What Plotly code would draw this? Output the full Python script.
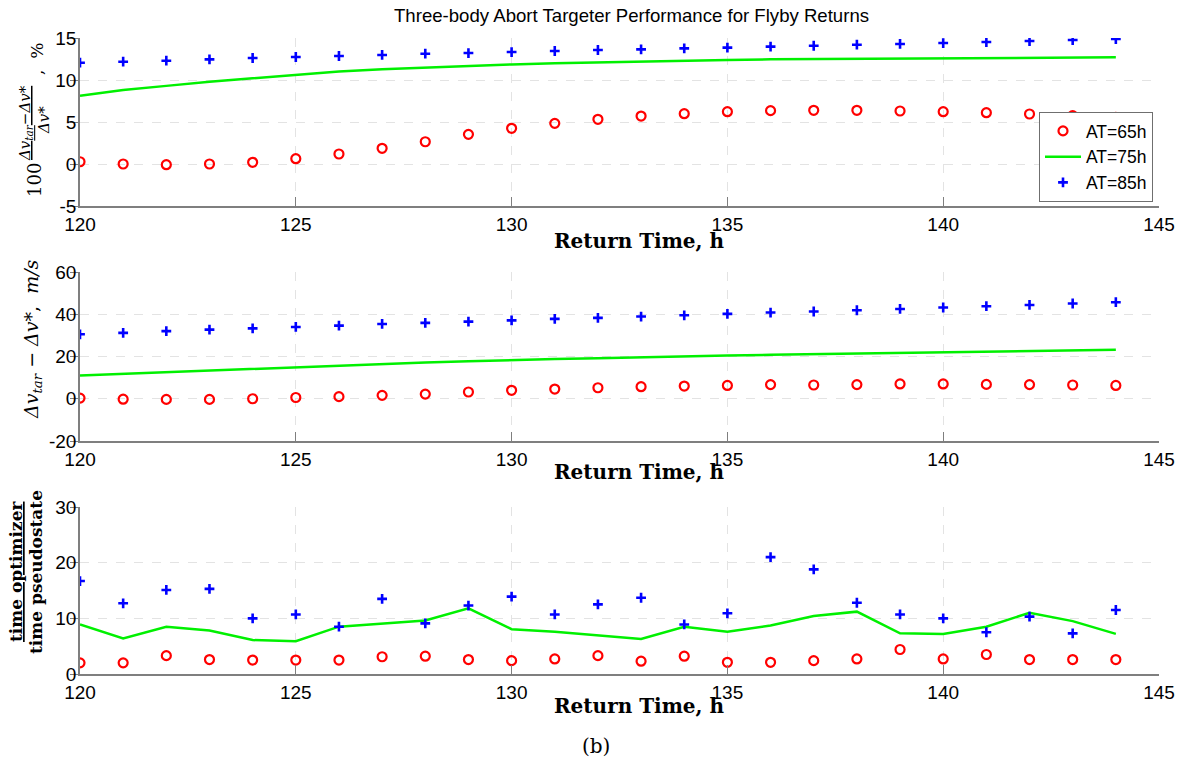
import plotly.graph_objects as go

# ---------------- data ----------------
return_time = [120, 121, 122, 123, 124, 125, 126, 127, 128, 129, 130, 131, 132,
               133, 134, 135, 136, 137, 138, 139, 140, 141, 142, 143, 144]

pct_65 = [0.27, 0.0, -0.08, 0.0, 0.2, 0.63, 1.19, 1.87, 2.65, 3.53, 4.25, 4.84, 5.32,
          5.71, 5.99, 6.23, 6.35, 6.39, 6.39, 6.31, 6.23, 6.11, 5.95, 5.75, 5.56]
pct_75 = [8.13, 8.8, 9.3, 9.8, 10.2, 10.6, 11.0, 11.27, 11.47, 11.67, 11.86, 11.98, 12.1,
          12.18, 12.3, 12.38, 12.46, 12.5, 12.54, 12.58, 12.62, 12.65, 12.67, 12.7, 12.7]
pct_85 = [12.06, 12.18, 12.3, 12.46, 12.62, 12.74, 12.86, 12.98, 13.13, 13.21, 13.33, 13.45, 13.57,
          13.65, 13.77, 13.85, 13.97, 14.08, 14.2, 14.29, 14.4, 14.52, 14.64, 14.76, 14.88]

dv_65 = [0.3, -0.2, -0.3, -0.3, 0.0, 0.6, 1.0, 1.6, 2.2, 3.2, 4.0, 4.6, 5.2,
         5.7, 6.0, 6.3, 6.7, 6.5, 6.7, 7.0, 7.0, 6.8, 6.7, 6.5, 6.3]
dv_75 = [11.0, 11.8, 12.6, 13.4, 14.2, 15.0, 15.8, 16.6, 17.2, 17.8, 18.4, 18.8, 19.2,
         19.7, 20.1, 20.5, 20.8, 21.1, 21.5, 21.8, 22.2, 22.4, 22.7, 23.0, 23.2]
dv_85 = [30.5, 31.2, 32.0, 32.7, 33.3, 34.0, 34.6, 35.4, 35.9, 36.5, 37.1, 37.8, 38.3,
         38.9, 39.5, 40.2, 40.8, 41.3, 41.9, 42.5, 43.2, 43.8, 44.4, 45.1, 45.7]

ratio_65 = [2.0, 2.0, 3.3, 2.6, 2.5, 2.5, 2.5, 3.1, 3.2, 2.6, 2.4, 2.7, 3.3,
            2.3, 3.2, 2.1, 2.1, 2.4, 2.7, 4.4, 2.7, 3.5, 2.6, 2.6, 2.6]
ratio_75 = [8.9, 6.4, 8.5, 7.8, 6.1, 5.9, 8.5, 9.1, 9.6, 11.8, 8.05, 7.6, 6.9,
            6.3, 8.5, 7.6, 8.7, 10.4, 11.2, 7.3, 7.2, 8.5, 11.0, 9.5, 7.2]
ratio_85 = [16.7, 12.7, 15.1, 15.3, 10.0, 10.7, 8.5, 13.5, 9.1, 12.3, 13.9, 10.7, 12.5,
            13.7, 8.9, 10.9, 21.0, 18.8, 12.8, 10.7, 10.0, 7.5, 10.3, 7.3, 11.5]

series_names = ["AT=65h", "AT=75h", "AT=85h"]
x_ticks = [120, 125, 130, 135, 140, 145]

# ---------------- layout helpers ----------------
W, H = 1183, 766
def px_x(p):
    return p / W
def px_y(p):
    return 1 - p / H

RED, GREEN, BLUE = "#ff0000", "#00f000", "#0000ff"
AXIS_GRAY = "#7f7f7f"
GRID = "#e3e3e3"
SANS = "Liberation Sans, Arial, sans-serif"
SERIF = "DejaVu Serif, serif"

panels = [
    (pct_65, pct_75, pct_85, [-5, 15], [-5, 0, 5, 10, 15], 38, 206),
    (dv_65, dv_75, dv_85, [-20, 60], [-20, 0, 20, 40, 60], 272, 441),
    (ratio_65, ratio_75, ratio_85, [0, 30], [0, 10, 20, 30], 507, 674),
]

fig = go.Figure()
layout = dict(
    width=W, height=H,
    margin=dict(l=0, r=0, t=0, b=0, autoexpand=False),
    paper_bgcolor="white", plot_bgcolor="white",
    showlegend=True,
    legend=dict(
        x=px_x(1153), y=px_y(202), xanchor="right", yanchor="bottom",
        bgcolor="white", bordercolor="#6f6f6f", borderwidth=1,
        font=dict(family=SANS, size=17.5, color="black"),
        itemwidth=36, tracegroupgap=0,
    ),
)

for i, (s65, s75, s85, yr, yt, top, bot) in enumerate(panels):
    k = "" if i == 0 else str(i + 1)
    xa, ya = "x" + k, "y" + k
    fig.add_trace(go.Scatter(
        x=return_time, y=s65, mode="markers", name=series_names[0],
        xaxis=xa, yaxis=ya, showlegend=(i == 0), legendrank=1,
        marker=dict(symbol="circle-open", size=9, color=RED, line=dict(width=2.2, color=RED)),
    ))
    fig.add_trace(go.Scatter(
        x=return_time, y=s75, mode="lines", name=series_names[1],
        xaxis=xa, yaxis=ya, showlegend=(i == 0), legendrank=2,
        line=dict(color=GREEN, width=2.5),
    ))
    fig.add_trace(go.Scatter(
        x=return_time, y=s85, mode="markers", name=series_names[2],
        xaxis=xa, yaxis=ya, showlegend=(i == 0), legendrank=3,
        marker=dict(symbol="cross-thin-open", size=7, color=BLUE, line=dict(width=2.6, color=BLUE)),
    ))
    layout["xaxis" + k] = dict(
        domain=[px_x(80), px_x(1159)], anchor=ya, range=[120, 145], automargin=False,
        tickvals=x_ticks, ticktext=[str(v) for v in x_ticks],
        ticks="inside", ticklen=9, tickcolor=AXIS_GRAY, tickwidth=1,
        showline=True, linecolor=AXIS_GRAY, linewidth=1.5,
        showgrid=True, gridcolor=GRID, griddash="dash", gridwidth=1,
        zeroline=False, tickfont=dict(family=SANS, size=19, color="black"),
    )
    layout["yaxis" + k] = dict(
        domain=[px_y(bot), px_y(top)], anchor=xa, range=yr, automargin=False,
        tickvals=yt, ticktext=[str(v) for v in yt],
        ticks="outside", ticklen=8, tickcolor=AXIS_GRAY, tickwidth=1,
        ticklabelstandoff=-10,
        showline=True, linecolor=AXIS_GRAY, linewidth=1.5,
        showgrid=True, gridcolor=GRID, griddash="dash", gridwidth=1,
        zeroline=False, tickfont=dict(family=SANS, size=19, color="black"),
    )

annotations = [
    dict(text="Three-body Abort Targeter Performance for Flyby Returns",
         x=px_x(631), y=px_y(16), font=dict(family=SANS, size=18.6, color="black")),
    dict(text="<b>Return Time, h</b>", x=px_x(639), y=px_y(241),
         font=dict(family=SERIF, size=20, color="black")),
    dict(text="<b>Return Time, h</b>", x=px_x(639), y=px_y(472),
         font=dict(family=SERIF, size=20, color="black")),
    dict(text="<b>Return Time, h</b>", x=px_x(639), y=px_y(706),
         font=dict(family=SERIF, size=20, color="black")),
    dict(text="(b)", x=px_x(596), y=px_y(746),
         font=dict(family=SERIF, size=20, color="black")),
    # panel 1 y label: 100 * fraction , %
    dict(text="100", x=px_x(34), y=px_y(180),
         textangle=-90, font=dict(family=SERIF, size=18, color="black")),
    dict(text="<i><u>Δv<sub>tar</sub>−Δv*</u></i>", x=px_x(26), y=px_y(123),
         textangle=-90, font=dict(family=SERIF, size=15, color="black")),
    dict(text="<i>Δv*</i>", x=px_x(44), y=px_y(120),
         textangle=-90, font=dict(family=SERIF, size=15, color="black")),
    dict(text=",  %", x=px_x(37), y=px_y(59),
         textangle=-90, font=dict(family=SERIF, size=17, color="black")),
    dict(text="<i>Δv<sub>tar</sub> − Δv*</i>,  <i>m/s</i>", x=px_x(33), y=px_y(339),
         textangle=-90, font=dict(family=SERIF, size=19, color="black")),
    dict(text="<b><u>time optimizer</u></b>", x=px_x(16), y=px_y(572),
         textangle=-90, font=dict(family=SERIF, size=17, color="black")),
    dict(text="<b>time pseudostate</b>", x=px_x(36), y=px_y(572),
         textangle=-90, font=dict(family=SERIF, size=17, color="black")),
]
for a in annotations:
    a.update(xref="paper", yref="paper", showarrow=False, xanchor="center", yanchor="middle")
layout["annotations"] = annotations

fig.update_layout(**layout)
fig.write_html("out.html")
